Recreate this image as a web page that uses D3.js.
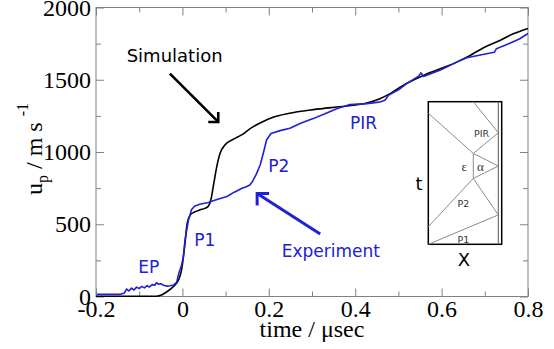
<!DOCTYPE html>
<html>
<head>
<meta charset="utf-8">
<script src="https://cdn.jsdelivr.net/npm/d3@7"></script>
<style>
  body { margin: 0; background: #fff; }
  svg { display: block; }
</style>
</head>
<body>
<div id="chart"></div>
<script>
// experiment (blue) trace, time in usec, velocity in m/s
const expTime = [-0.198, -0.144, -0.135, -0.129, -0.124, -0.118, -0.112, -0.106, -0.1, -0.094, -0.088, -0.082,
  -0.076, -0.07, -0.064, -0.06, -0.055, -0.05, -0.042, -0.035, -0.028, -0.02, -0.013, -0.008, -0.003, 0.002,
  0.006, 0.014, 0.021, 0.028, 0.04, 0.06, 0.08, 0.103, 0.12, 0.137, 0.148, 0.156, 0.163, 0.17, 0.18, 0.188,
  0.195, 0.205, 0.226, 0.249, 0.275, 0.303, 0.33, 0.357, 0.388, 0.427, 0.455, 0.469, 0.477, 0.504, 0.519,
  0.547, 0.552, 0.558, 0.596, 0.635, 0.658, 0.704, 0.722, 0.727, 0.758, 0.781, 0.8];
const expVel = [15, 15, 22, 52, 38, 58, 45, 65, 55, 70, 60, 75,
  66, 82, 78, 95, 85, 88, 76, 72, 74, 80, 100, 165, 205, 270,
  390, 528, 600, 625, 638, 650, 672, 692, 722, 747, 760, 772, 800, 840, 910, 1000,
  1085, 1128, 1148, 1165, 1200, 1231, 1265, 1300, 1328, 1335, 1345, 1358, 1392, 1438, 1473,
  1525, 1548, 1523, 1565, 1622, 1652, 1680, 1690, 1715, 1753, 1784, 1820];

// simulation (black) trace
const simTime = [-0.2, -0.06, -0.05, -0.036, -0.021, -0.009, -0.002, 0.006, 0.011, 0.018, 0.029, 0.041,
  0.052, 0.06, 0.066, 0.072, 0.079, 0.087, 0.099, 0.118, 0.137, 0.156, 0.18, 0.21, 0.245, 0.303, 0.357,
  0.396, 0.427, 0.457, 0.481, 0.511, 0.558, 0.635, 0.666, 0.697, 0.735, 0.766, 0.8];
const simVel = [2, 2, 8, 33, 68, 114, 183, 367, 506, 563, 586, 600,
  610, 625, 670, 770, 890, 990, 1050, 1088, 1118, 1160, 1201, 1240, 1266, 1293, 1311,
  1323, 1339, 1369, 1404, 1461, 1530, 1622, 1668, 1722, 1772, 1818, 1855];

const xMajor = [-0.2, 0, 0.2, 0.4, 0.6, 0.8];
const xMinor = [-0.1, 0.1, 0.3, 0.5, 0.7];
const yMajor = [0, 500, 1000, 1500, 2000];
const yMinor = [250, 750, 1250, 1750];

// wave diagram in the inset, unit square (x right, t up)
const insetLines = [
  [[0, 0], [1, 0.206]],
  [[0, 0.123], [0.643, 0.462]],
  [[0.643, 0.462], [1, 0.206]],
  [[0.643, 0.462], [1, 0.549]],
  [[0.643, 0.637], [1, 0.549]],
  [[0.643, 0.637], [0.643, 0.462]],
  [[0, 0.919], [0.643, 0.637]],
  [[0.643, 0.637], [1, 0.782]],
  [[1, 0.782], [0.643, 1]]
];

const width = 554, height = 349;
const margin = { left: 96, right: 26, top: 7.5, bottom: 52.5 };
const blue = "#2020d4";
const serif = "'Liberation Serif', 'Times New Roman', serif";
const sans = "'DejaVu Sans', sans-serif";

const svg = d3.select("#chart").append("svg")
  .attr("width", width)
  .attr("height", height);

const x = d3.scaleLinear().domain([-0.2, 0.8]).range([margin.left, width - margin.right]);
const y = d3.scaleLinear().domain([0, 2000]).range([height - margin.bottom, margin.top]);

const axisColor = "#808080";

function styleAxis(g) {
  g.select(".domain").remove();
  g.selectAll(".tick line").attr("stroke", axisColor);
  g.selectAll(".tick text").attr("fill", "#000").style("font-family", serif).style("font-size", "24px");
}

// ticks on all four sides, pointing inwards
svg.append("g").attr("transform", `translate(0,${y(0)})`)
  .call(d3.axisBottom(x).tickValues(xMajor).tickSize(-8).tickPadding(3)
    .tickFormat(d => d === 0 ? "0" : d.toFixed(1)))
  .call(styleAxis);
svg.append("g").attr("transform", `translate(0,${y(0)})`)
  .call(d3.axisBottom(x).tickValues(xMinor).tickSize(-5).tickFormat(""))
  .call(styleAxis);
svg.append("g").attr("transform", `translate(0,${y(2000)})`)
  .call(d3.axisTop(x).tickValues(xMajor).tickSize(-8).tickFormat(""))
  .call(styleAxis);
svg.append("g").attr("transform", `translate(0,${y(2000)})`)
  .call(d3.axisTop(x).tickValues(xMinor).tickSize(-5).tickFormat(""))
  .call(styleAxis);
svg.append("g").attr("transform", `translate(${x(-0.2)},0)`)
  .call(d3.axisLeft(y).tickValues(yMajor).tickSize(-8).tickPadding(5).tickFormat(d3.format("d")))
  .call(styleAxis);
svg.append("g").attr("transform", `translate(${x(-0.2)},0)`)
  .call(d3.axisLeft(y).tickValues(yMinor).tickSize(-5).tickFormat(""))
  .call(styleAxis);
svg.append("g").attr("transform", `translate(${x(0.8)},0)`)
  .call(d3.axisRight(y).tickValues(yMajor).tickSize(-8).tickFormat(""))
  .call(styleAxis);
svg.append("g").attr("transform", `translate(${x(0.8)},0)`)
  .call(d3.axisRight(y).tickValues(yMinor).tickSize(-5).tickFormat(""))
  .call(styleAxis);

svg.append("rect")
  .attr("x", x(-0.2)).attr("y", y(2000))
  .attr("width", x(0.8) - x(-0.2)).attr("height", y(0) - y(2000))
  .attr("fill", "none").attr("stroke", axisColor).attr("stroke-width", 1);

// axis titles
svg.append("text")
  .attr("x", (x(-0.2) + x(0.8)) / 2 + 0).attr("y", 337)
  .attr("text-anchor", "middle")
  .style("font-family", serif).style("font-size", "24px")
  .text("time / \u03bcsec");

const yl = svg.append("text")
  .attr("transform", "translate(42,149) rotate(-90)")
  .attr("text-anchor", "middle")
  .style("font-family", serif).style("font-size", "24px");
yl.append("tspan").text("u");
yl.append("tspan").attr("dy", 6).style("font-size", "16px").text("p");
yl.append("tspan").attr("dy", -6).text(" / m s ");
yl.append("tspan").attr("dy", -14).style("font-size", "16px").text("-1");

// curves
const expPts = expTime.map((t, i) => [t, expVel[i]]);
const simPts = simTime.map((t, i) => [t, simVel[i]]);

svg.append("path")
  .datum(simPts)
  .attr("fill", "none").attr("stroke", "#000").attr("stroke-width", 1.6)
  .attr("d", d3.line().x(d => x(d[0])).y(d => y(d[1])).curve(d3.curveMonotoneX));

svg.append("path")
  .datum(expPts)
  .attr("fill", "none").attr("stroke", blue).attr("stroke-width", 1.6)
  .attr("stroke-linejoin", "round")
  .attr("d", d3.line().x(d => x(d[0])).y(d => y(d[1])));

// annotations
function arrow(t0, u0, t1, u1, color, w, head) {
  const g = svg.append("g").attr("stroke", color).attr("stroke-width", w).attr("fill", "none");
  const x1 = x(t1), y1 = y(u1);
  g.append("line").attr("x1", x(t0)).attr("y1", y(u0)).attr("x2", x1).attr("y2", y1);
  const sx = Math.sign(x(t0) - x1), sy = Math.sign(y(u0) - y1);
  g.append("path").attr("d", `M${x1 + sx * head},${y1}L${x1},${y1}L${x1},${y1 + sy * head}`);
}
arrow(-0.029, 1542, 0.083, 1208, "#000", 2.6, 10);
arrow(0.319, 432, 0.173, 713, blue, 3, 12);

const labels = [
  { t: -0.129, u: 1621, text: "Simulation", color: "#000", size: 18 },
  { t: 0.23, u: 275, text: "Experiment", color: blue, size: 17 },
  { t: -0.102, u: 160, text: "EP", color: blue, size: 17 },
  { t: 0.0275, u: 351, text: "P1", color: blue, size: 17 },
  { t: 0.199, u: 862, text: "P2", color: blue, size: 17 },
  { t: 0.388, u: 1162, text: "PIR", color: blue, size: 17 }
];
svg.append("g").selectAll("text").data(labels).join("text")
  .attr("x", d => x(d.t)).attr("y", d => y(d.u))
  .attr("fill", d => d.color)
  .style("font-family", sans).style("font-size", d => d.size + "px")
  .text(d => d.text);

// inset: x-t wave diagram
const ix = d3.scaleLinear().domain([0, 1]).range([428.3, 498.3]);
const it = d3.scaleLinear().domain([0, 1]).range([244.3, 101.7]);
const inset = svg.append("g");
inset.append("rect")
  .attr("x", ix(0)).attr("y", it(1))
  .attr("width", 501.7 - ix(0)).attr("height", it(0) - it(1))
  .attr("fill", "#fff").attr("stroke", "#000").attr("stroke-width", 1.5);
inset.append("line")
  .attr("x1", ix(1)).attr("x2", ix(1)).attr("y1", it(0)).attr("y2", it(1))
  .attr("stroke", "#555").attr("stroke-width", 1);
inset.selectAll("path.wave").data(insetLines).join("path")
  .attr("class", "wave")
  .attr("d", d => d3.line().x(p => ix(p[0])).y(p => it(p[1]))(d))
  .attr("fill", "none").attr("stroke", "#8c8c8c").attr("stroke-width", 1);

const insetText = [
  { x: 481.5, y: 136.5, text: "PIR", size: 9.5, font: sans },
  { x: 464.3, y: 170.5, text: "\u03b5", size: 13, font: serif },
  { x: 480.3, y: 170.5, text: "\u03b1", size: 13, font: serif },
  { x: 463.5, y: 206.5, text: "P2", size: 9.5, font: sans },
  { x: 463.5, y: 243, text: "P1", size: 9.5, font: sans }
];
inset.selectAll("text.lab").data(insetText).join("text")
  .attr("class", "lab")
  .attr("x", d => d.x).attr("y", d => d.y)
  .attr("text-anchor", "middle")
  .attr("fill", "#333")
  .style("font-family", d => d.font).style("font-size", d => d.size + "px")
  .text(d => d.text);

svg.append("text").attr("x", 419).attr("y", 190).attr("text-anchor", "middle")
  .style("font-family", sans).style("font-size", "18px").text("t");
svg.append("text").attr("x", 464).attr("y", 266).attr("text-anchor", "middle")
  .style("font-family", sans).style("font-size", "18px").text("X");
</script>
</body>
</html>
